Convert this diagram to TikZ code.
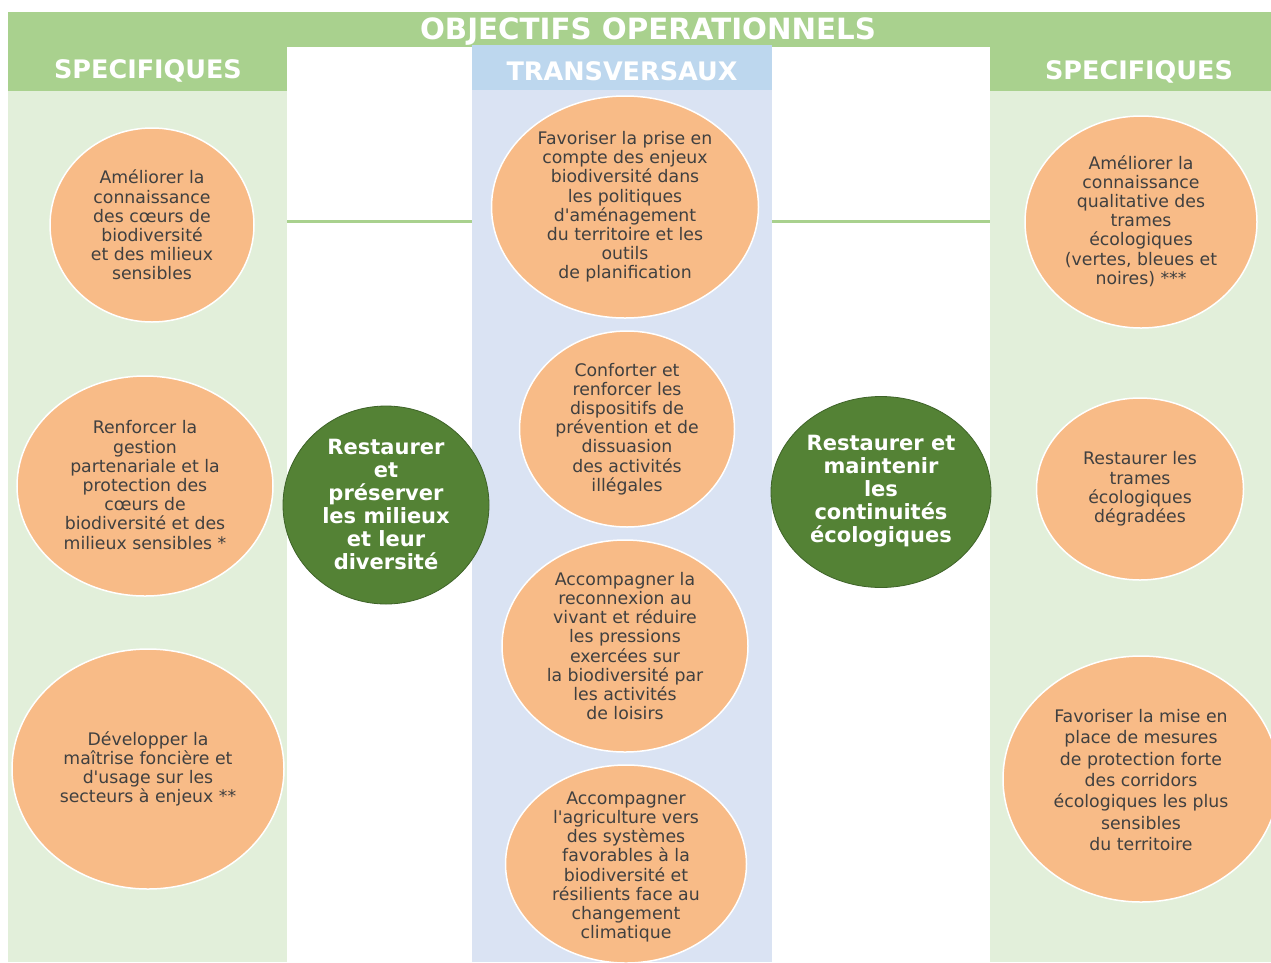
\documentclass[tikz,border=0pt]{standalone}
\usepackage{fontspec}
\setmainfont{DejaVu Sans}[Ligatures=TeXOff]
\usetikzlibrary{shapes.geometric}
\definecolor{hdrgreen}{HTML}{A9D18E}
\definecolor{bodygreen}{HTML}{E2EFDA}
\definecolor{hdrblue}{HTML}{BDD7EE}
\definecolor{bodyblue}{HTML}{DAE3F3}
\definecolor{orangefill}{HTML}{F8BB87}
\definecolor{darkgreen}{HTML}{548235}
\definecolor{darkgreenline}{HTML}{3E6328}
\definecolor{txtgray}{HTML}{404040}
\tikzset{
  oval/.style={ellipse, fill=orangefill, draw=white, line width=1.5pt, inner sep=0pt},
  goval/.style={ellipse, fill=darkgreen, draw=darkgreenline, line width=0.8pt, inner sep=0pt},
  txt/.style={align=center, text=txtgray, inner sep=0pt, font=\fontsize{17.3}{19.2}\selectfont},
  txtwide/.style={align=center, text=txtgray, inner sep=0pt, font=\fontsize{17.3}{21.3}\selectfont},
  gtxt/.style={align=center, text=white, inner sep=0pt, font=\bfseries\fontsize{21}{23}\selectfont},
  hdrtxt/.style={text=white, inner sep=0pt, font=\bfseries\fontsize{25.5}{27}\selectfont},
  sepline/.style={draw=hdrgreen, line width=3pt}
}
\begin{document}
\begin{tikzpicture}[x=1pt,y=-1pt]
\useasboundingbox (0,0) rectangle (1271,962);
\fill[white] (0,0) rectangle (1271,962);
% top bar
\fill[hdrgreen] (8,12) rectangle (1271,47);
% left column
\fill[hdrgreen] (8,47) rectangle (287,91);
\fill[bodygreen] (8,91) rectangle (287,962);
% middle column
\fill[hdrblue] (472,45) rectangle (772,90);
\fill[bodyblue] (472,90) rectangle (772,962);
% right column
\fill[hdrgreen] (990,47) rectangle (1271,91);
\fill[bodygreen] (990,91) rectangle (1271,962);
% separator lines
\coordinate (sl1) at (287,221);
\coordinate (sl2) at (472,221);
\coordinate (sr1) at (772,221);
\coordinate (sr2) at (990,221);
\draw[sepline] (sl1) -- (sl2);
\draw[sepline] (sr1) -- (sr2);
% headers
\node[text=white, inner sep=0pt, font=\bfseries\fontsize{29.3}{31}\selectfont] (title) at (648,32) {OBJECTIFS OPERATIONNELS};
\node[hdrtxt] (hl) at (148,71) {SPECIFIQUES};
\node[hdrtxt] (hm) at (622,71) {TRANSVERSAUX};
\node[hdrtxt] (hr) at (1139,72) {SPECIFIQUES};
% left ellipses
\node[oval, minimum width=204pt, minimum height=194pt] (e1) at (152,225) {};
\node[txt] (t1) at (152,225) {Améliorer la\\connaissance\\des cœurs de\\biodiversité\\et des milieux\\sensibles};
\node[oval, minimum width=256pt, minimum height=220pt] (e2) at (145,486) {};
\node[txt] (t2) at (145,485) {Renforcer la\\gestion\\partenariale et la\\protection des\\cœurs de\\biodiversité et des\\milieux sensibles *};
\node[oval, minimum width=272pt, minimum height=240pt] (e3) at (148,769) {};
\node[txt] (t3) at (148,769) {Développer la\\maîtrise foncière et\\d'usage sur les\\secteurs à enjeux **};
% middle ellipses
\node[oval, minimum width=267pt, minimum height=222pt] (e4) at (625,207) {};
\node[txt] (t4) at (625,207) {Favoriser la prise en\\compte des enjeux\\biodiversité dans\\les politiques\\d'aménagement\\du territoire et les\\outils\\de planification};
\node[oval, minimum width=215pt, minimum height=196pt] (e5) at (627,429) {};
\node[txt] (t5) at (627,429) {Conforter et\\renforcer les\\dispositifs de\\prévention et de\\dissuasion\\des activités\\illégales};
\node[oval, minimum width=246pt, minimum height=212pt] (e6) at (625,646) {};
\node[txt] (t6) at (625,646) {Accompagner la\\reconnexion au\\vivant et réduire\\les pressions\\exercées sur\\la biodiversité par\\les activités\\de loisirs};
\node[oval, minimum width=241pt, minimum height=198pt] (e7) at (626,864) {};
\node[txt] (t7) at (626,867) {Accompagner\\l'agriculture vers\\des systèmes\\favorables à la\\biodiversité et\\résilients face au\\changement\\climatique};
% green circles
\node[goval, minimum width=206pt, minimum height=198pt] (g1) at (386,505) {};
\node[gtxt] (gt1) at (386,504) {Restaurer\\et\\préserver\\les milieux\\et leur\\diversité};
\node[goval, minimum width=220pt, minimum height=191pt] (g2) at (881,492) {};
\node[gtxt] (gt2) at (881,491) {Restaurer et\\maintenir\\les\\continuités\\écologiques};
% right ellipses
\node[oval, minimum width=232pt, minimum height=212pt] (e10) at (1141,222) {};
\node[txt] (t10) at (1141,221) {Améliorer la\\connaissance\\qualitative des\\trames\\écologiques\\(vertes, bleues et\\noires) ***};
\node[oval, minimum width=207pt, minimum height=182pt] (e11) at (1140,489) {};
\node[txt] (t11) at (1140,489) {Restaurer les\\trames\\écologiques\\dégradées};
\node[oval, minimum width=276pt, minimum height=246pt] (e12) at (1141,779) {};
\node[txtwide] (t12) at (1141,780) {Favoriser la mise en\\place de mesures\\de protection forte\\des corridors\\écologiques les plus\\sensibles\\du territoire};
\end{tikzpicture}
\end{document}
